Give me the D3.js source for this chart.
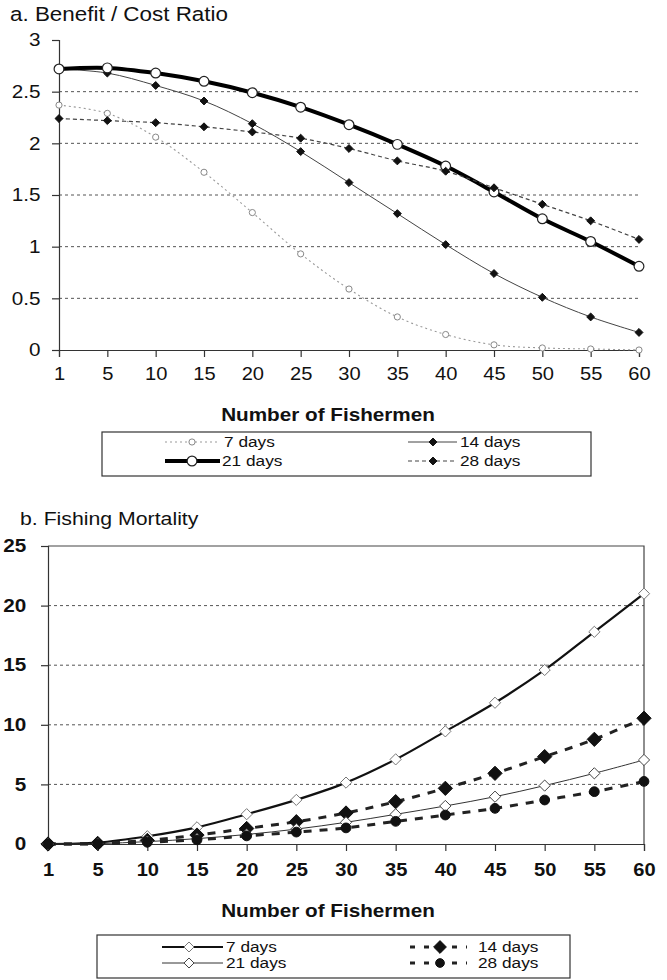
<!DOCTYPE html>
<html><head><meta charset="utf-8">
<script src="https://cdn.jsdelivr.net/npm/d3@7"></script>
<style>
html,body{margin:0;padding:0;background:#fff;}
svg{display:block;font-family:"Liberation Sans",Arial,sans-serif;}
</style></head>
<body>
<svg id="chart" width="667" height="980"></svg>
<script>
// ---------- data ----------
const fishermen = [1,5,10,15,20,25,30,35,40,45,50,55,60];
const seriesNames = ["7 days","14 days","21 days","28 days"];
// a. Benefit / Cost Ratio
const bcr7  = [2.37,2.29,2.06,1.72,1.33,0.93,0.59,0.32,0.15,0.05,0.02,0.01,0.00];
const bcr14 = [2.72,2.68,2.56,2.41,2.19,1.92,1.62,1.32,1.02,0.74,0.51,0.32,0.17];
const bcr21 = [2.72,2.73,2.68,2.60,2.49,2.35,2.18,1.99,1.78,1.53,1.27,1.05,0.81];
const bcr28 = [2.24,2.22,2.20,2.16,2.11,2.05,1.95,1.83,1.73,1.57,1.41,1.25,1.07];
const bcrTicks = [0,0.5,1,1.5,2,2.5,3];
// b. Fishing Mortality
const fm7  = [0,0.12,0.65,1.4,2.5,3.7,5.15,7.1,9.45,11.85,14.6,17.8,21.0];
const fm14 = [0,0.05,0.3,0.75,1.3,1.87,2.6,3.55,4.67,5.93,7.33,8.78,10.55];
const fm21 = [0,0.03,0.2,0.45,0.8,1.25,1.82,2.49,3.19,3.97,4.9,5.93,7.05];
const fm28 = [0,0.02,0.15,0.35,0.68,1.0,1.35,1.9,2.43,2.99,3.69,4.39,5.25];
const fmTicks = [0,5,10,15,20,25];

const svg = d3.select("#chart");
const SX = 1.15; // horizontal stretch of the scanned type

function stretchText(sel){ sel.attr("transform", function(){ return `scale(${SX},1)`; }); }
function addText(g, x, y, txt, size, weight, anchor){
  return g.append("text").attr("transform", `translate(${x},${y}) scale(${SX},1)`)
    .attr("font-size", size).attr("font-weight", weight||"normal")
    .attr("text-anchor", anchor||"start").attr("fill","#111").text(txt);
}
function marker(g, type, x, y, size, fill, stroke, sw){
  const sym = type==="diamond" ? d3.symbolDiamond2 : d3.symbolCircle;
  g.append("path").attr("d", d3.symbol(sym, size)())
    .attr("transform", `translate(${x},${y})`)
    .attr("fill", fill).attr("stroke", stroke).attr("stroke-width", sw);
}

// ======== Chart a ========
const xA = d3.scalePoint().domain(fishermen).range([59, 639]);
const yA = d3.scaleLinear().domain([0,3]).range([350, 40]);
const gA = svg.append("g");

addText(gA, 10, 21, "a.  Benefit / Cost Ratio", 19.5, "normal");

// gridlines
gA.append("g").selectAll("line").data(bcrTicks.filter(t=>t>0 && t<3)).join("line")
  .attr("x1", 59).attr("x2", 639).attr("y1", d=>yA(d)).attr("y2", d=>yA(d))
  .attr("stroke","#555").attr("stroke-width",1).attr("stroke-dasharray","3,3");

const axLA = gA.append("g").attr("transform","translate(59,0)")
  .call(d3.axisLeft(yA).tickValues(bcrTicks).tickSize(7).tickPadding(9).tickFormat(d3.format("~g")));
const axBA = gA.append("g").attr("transform","translate(0,350)")
  .call(d3.axisBottom(xA).tickSize(7).tickPadding(11));
[axLA, axBA].forEach(ax=>{
  ax.select(".domain").attr("stroke","#333").attr("stroke-width",1.2);
  ax.selectAll(".tick line").attr("stroke","#333").attr("stroke-width",1.2);
  ax.selectAll(".tick text").attr("font-size",17.5).attr("fill","#111")
    .attr("font-family",'"Liberation Sans",Arial,sans-serif').call(stretchText);
});
axLA.selectAll(".tick text").attr("font-size",18);
addText(gA, 328, 421, "Number of Fishermen", 18, "bold", "middle");

const styleA = [
  {v:bcr7,  stroke:"#9a9a9a", sw:1.1, dash:"2,3", mk:"circle",  ms:30, mfill:"#fff", mstroke:"#888", msw:1},
  {v:bcr14, stroke:"#444",    sw:1,   dash:null,  mk:"diamond", ms:40, mfill:"#111", mstroke:"#111", msw:1},
  {v:bcr21, stroke:"#000",    sw:4,   dash:null,  mk:"circle",  ms:75, mfill:"#fff", mstroke:"#222", msw:1.2},
  {v:bcr28, stroke:"#444",    sw:1.2, dash:"4,3", mk:"diamond", ms:40, mfill:"#111", mstroke:"#111", msw:1}
];
const lineA = d3.line().x((d,i)=>xA(fishermen[i])).y(d=>yA(d)).curve(d3.curveCatmullRom.alpha(0.5));
styleA.forEach(s=>{
  gA.append("path").attr("d", lineA(s.v)).attr("fill","none").attr("stroke",s.stroke)
    .attr("stroke-width",s.sw).attr("stroke-dasharray",s.dash);
});
styleA.forEach(s=>{
  s.v.forEach((d,i)=>marker(gA, s.mk, xA(fishermen[i]), yA(d), s.ms, s.mfill, s.mstroke, s.msw));
});

// legend a
gA.append("rect").attr("x",102).attr("y",432).attr("width",489).attr("height",44)
  .attr("fill","#fff").attr("stroke","#333").attr("stroke-width",1.2);
const legA = [
  {s:styleA[0], x1:165, x2:220, mx:192, y:442, tx:224, ty:447},
  {s:styleA[1], x1:408, x2:457, mx:433, y:442, tx:460, ty:447},
  {s:styleA[2], x1:165, x2:220, mx:192, y:461, tx:222, ty:466},
  {s:styleA[3], x1:408, x2:457, mx:433, y:461, tx:460, ty:466}
];
legA.forEach((L,i)=>{
  gA.append("line").attr("x1",L.x1).attr("x2",L.x2).attr("y1",L.y).attr("y2",L.y)
    .attr("stroke",L.s.stroke).attr("stroke-width",L.s.sw).attr("stroke-dasharray",L.s.dash);
  marker(gA, L.s.mk, L.mx, L.y, L.s.ms, L.s.mfill, L.s.mstroke, L.s.msw);
  addText(gA, L.tx, L.ty, seriesNames[i], 15, "normal");
});

// ======== Chart b ========
const xB = d3.scalePoint().domain(fishermen).range([48, 644]);
const yB = d3.scaleLinear().domain([0,25]).range([844, 546]);
const gB = svg.append("g");

addText(gB, 20, 525, "b. Fishing  Mortality", 18.5, "normal");

gB.append("g").selectAll("line").data(fmTicks.filter(t=>t>0 && t<25)).join("line")
  .attr("x1", 48).attr("x2", 644).attr("y1", d=>yB(d)).attr("y2", d=>yB(d))
  .attr("stroke","#555").attr("stroke-width",1).attr("stroke-dasharray","3,3");
// top and right frame
gB.append("path").attr("d", `M48,${yB(25)}H644V${yB(0)}`).attr("fill","none")
  .attr("stroke","#444").attr("stroke-width",1.2);

const axLB = gB.append("g").attr("transform","translate(48,0)")
  .call(d3.axisLeft(yB).tickValues(fmTicks).tickSize(7).tickPadding(12));
const axBB = gB.append("g").attr("transform","translate(0,844)")
  .call(d3.axisBottom(xB).tickSize(7).tickPadding(13));
[axLB, axBB].forEach(ax=>{
  ax.select(".domain").attr("stroke","#333").attr("stroke-width",1.2);
  ax.selectAll(".tick line").attr("stroke","#333").attr("stroke-width",1.2);
  ax.selectAll(".tick text").attr("font-size",17.5).attr("fill","#111").attr("font-weight","bold")
    .attr("font-family",'"Liberation Sans",Arial,sans-serif').call(stretchText);
});
axLB.selectAll(".tick text").attr("font-size",18);
addText(gB, 328, 917, "Number of Fishermen", 18, "bold", "middle");

const styleB = [
  {v:fm7,  stroke:"#111", sw:2.2, dash:null,  mk:"diamond", ms:80, mfill:"#fff", mstroke:"#777", msw:1},
  {v:fm14, stroke:"#222", sw:3,   dash:"8,8", mk:"diamond", ms:130, mfill:"#111", mstroke:"#111", msw:1},
  {v:fm21, stroke:"#333", sw:1,   dash:null,  mk:"diamond", ms:80, mfill:"#fff", mstroke:"#444", msw:1},
  {v:fm28, stroke:"#222", sw:3,   dash:"8,8", mk:"circle",  ms:75, mfill:"#111", mstroke:"#111", msw:1}
];
const lineB = d3.line().x((d,i)=>xB(fishermen[i])).y(d=>yB(d)).curve(d3.curveCatmullRom.alpha(0.5));
styleB.forEach(s=>{
  gB.append("path").attr("d", lineB(s.v)).attr("fill","none").attr("stroke",s.stroke)
    .attr("stroke-width",s.sw).attr("stroke-dasharray",s.dash);
});
styleB.forEach(s=>{
  s.v.forEach((d,i)=>marker(gB, s.mk, xB(fishermen[i]), yB(d), s.ms, s.mfill, s.mstroke, s.msw));
});

// legend b
gB.append("rect").attr("x",97).attr("y",935).attr("width",473).attr("height",43)
  .attr("fill","#fff").attr("stroke","#333").attr("stroke-width",1.2);
const legB = [
  {s:styleB[0], x1:162, x2:223, mx:189, y:947, tx:226, ty:952},
  {s:styleB[1], x1:410, x2:467, mx:440, y:947, tx:478, ty:952},
  {s:styleB[2], x1:162, x2:223, mx:189, y:963, tx:226, ty:968},
  {s:styleB[3], x1:410, x2:467, mx:440, y:963, tx:478, ty:968}
];
legB.forEach((L,i)=>{
  gB.append("line").attr("x1",L.x1).attr("x2",L.x2).attr("y1",L.y).attr("y2",L.y)
    .attr("stroke",L.s.stroke).attr("stroke-width",L.s.sw).attr("stroke-dasharray",L.s.dash ? "5,9" : null);
  marker(gB, L.s.mk, L.mx, L.y, L.s.ms*0.8, L.s.mfill, L.s.mstroke, L.s.msw);
  addText(gB, L.tx, L.ty, seriesNames[i === 1 ? 1 : i === 2 ? 2 : i], 15, "normal");
});
</script>
</body></html>
